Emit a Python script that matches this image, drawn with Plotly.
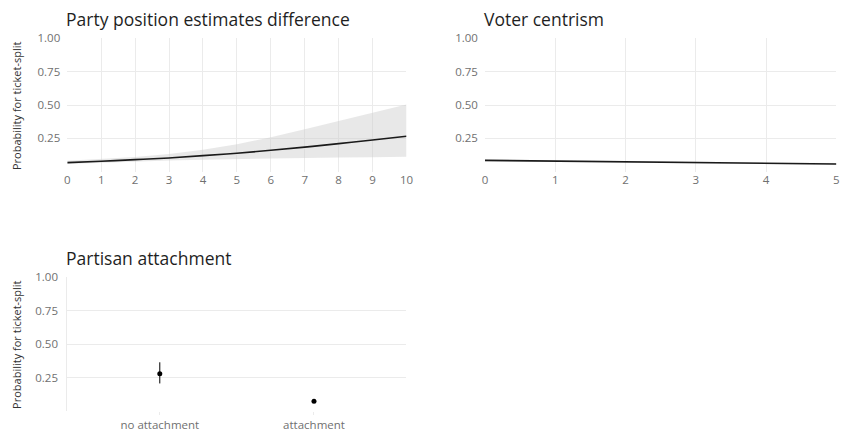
import plotly.graph_objects as go

# Panel 1: party position estimates difference
pos_x = [0, 1, 2, 3, 4, 5, 6, 7, 8, 9, 10]
pos_fit = [0.069, 0.079, 0.091, 0.104, 0.121, 0.139, 0.161, 0.185, 0.211, 0.238, 0.266]
pos_lo = [0.058, 0.068, 0.077, 0.085, 0.091, 0.096, 0.100, 0.104, 0.107, 0.110, 0.113]
pos_hi = [0.082, 0.094, 0.111, 0.134, 0.165, 0.207, 0.258, 0.318, 0.380, 0.442, 0.505]

# Panel 2: voter centrism
cen_x = [0, 1, 2, 3, 4, 5]
cen_fit = [0.086, 0.080, 0.075, 0.070, 0.064, 0.059]
cen_lo = [0.080, 0.076, 0.072, 0.066, 0.059, 0.052]
cen_hi = [0.092, 0.085, 0.079, 0.074, 0.069, 0.066]

# Panel 3: partisan attachment
att_cat = ["no attachment", "attachment"]
att_est = [0.280, 0.073]
att_lo = [0.207, 0.064]
att_hi = [0.365, 0.083]

y_ticks = [0, 0.25, 0.5, 0.75, 1.0]
y_ticktext = ["", "0.25", "0.50", "0.75", "1.00"]

FONT = "Open Sans"
GRID = "#ebebeb"
TICKC = "#707070"
RIBBON = "rgba(205,205,205,0.45)"
LINE = "#1a1a1a"

fig = go.Figure()


def ribbon(x, lo, hi, xa, ya):
    fig.add_trace(go.Scatter(x=x, y=hi, mode="lines", line=dict(width=0),
                             xaxis=xa, yaxis=ya, hoverinfo="skip", showlegend=False))
    fig.add_trace(go.Scatter(x=x, y=lo, mode="lines", line=dict(width=0),
                             fill="tonexty", fillcolor=RIBBON,
                             xaxis=xa, yaxis=ya, hoverinfo="skip", showlegend=False))


ribbon(pos_x, pos_lo, pos_hi, "x", "y")
fig.add_trace(go.Scatter(x=pos_x, y=pos_fit, mode="lines", line=dict(color=LINE, width=1.6, shape="spline"),
                         xaxis="x", yaxis="y", showlegend=False))

ribbon(cen_x, cen_lo, cen_hi, "x2", "y2")
fig.add_trace(go.Scatter(x=cen_x, y=cen_fit, mode="lines", line=dict(color=LINE, width=1.6),
                         xaxis="x2", yaxis="y2", showlegend=False))

fig.add_trace(go.Scatter(
    x=att_cat, y=att_est, mode="markers",
    marker=dict(color="black", size=5),
    error_y=dict(type="data", symmetric=False,
                 array=[h - e for h, e in zip(att_hi, att_est)],
                 arrayminus=[e - l for e, l in zip(att_est, att_lo)],
                 color="black", thickness=1, width=0),
    xaxis="x3", yaxis="y3", showlegend=False))

tickfont = dict(family=FONT, size=11.5, color=TICKC)

common_y = dict(range=[0, 1], tickvals=y_ticks, ticktext=y_ticktext, showgrid=True,
                gridcolor=GRID, gridwidth=1, zeroline=False, tickfont=tickfont,
                ticks="", ticklabelstandoff=6, fixedrange=True)

fig.update_layout(
    width=848, height=432,
    margin=dict(l=0, r=0, t=0, b=0),
    paper_bgcolor="white", plot_bgcolor="white",
    font=dict(family=FONT),
    xaxis=dict(domain=[0.0767, 0.4815], anchor="y", range=[0, 10], tickvals=pos_x,
               showgrid=True, gridcolor=GRID, gridwidth=1, zeroline=False,
               tickfont=tickfont, ticks=""),
    yaxis=dict(domain=[0.6118, 0.9282], anchor="x", **common_y),
    xaxis2=dict(domain=[0.5751, 0.9945], anchor="y2", range=[0, 5], tickvals=cen_x,
                showgrid=True, gridcolor=GRID, gridwidth=1, zeroline=False,
                tickfont=tickfont, ticks=""),
    yaxis2=dict(domain=[0.6118, 0.9282], anchor="x2", **common_y),
    xaxis3=dict(domain=[0.0767, 0.4815], anchor="y3", range=[-0.6, 1.6],
                type="category", showgrid=False, zeroline=False,
                tickfont=tickfont,
                ticks="outside", ticklen=3, tickcolor=GRID),
    yaxis3=dict(domain=[0.0447, 0.3618], anchor="x3", showline=True, linecolor=GRID,
                linewidth=1, **common_y),
)

title_font = dict(family=FONT, size=17.5, color="#1f1f1f")
tx_left = 0.0767 - 3 / 848
fig.add_annotation(text="Party position estimates difference", x=tx_left, y=1 - 11 / 432,
                   xref="paper", yref="paper", xanchor="left", yanchor="middle",
                   showarrow=False, font=title_font)
fig.add_annotation(text="Voter centrism", x=0.5751 - 3 / 848, y=1 - 11 / 432,
                   xref="paper", yref="paper", xanchor="left", yanchor="middle",
                   showarrow=False, font=title_font)
fig.add_annotation(text="Partisan attachment", x=tx_left, y=1 - 256 / 432,
                   xref="paper", yref="paper", xanchor="left", yanchor="middle",
                   showarrow=False, font=title_font)

ylab_font = dict(family=FONT, size=11, color="#333333")
for yc in [1 - 99.5 / 432, 1 - 344 / 432]:
    fig.add_annotation(text="Probability for ticket-split", x=13 / 848, y=yc,
                       xref="paper", yref="paper", xanchor="center", yanchor="middle",
                       textangle=-90, showarrow=False, font=ylab_font)

fig.write_html("out.html")
